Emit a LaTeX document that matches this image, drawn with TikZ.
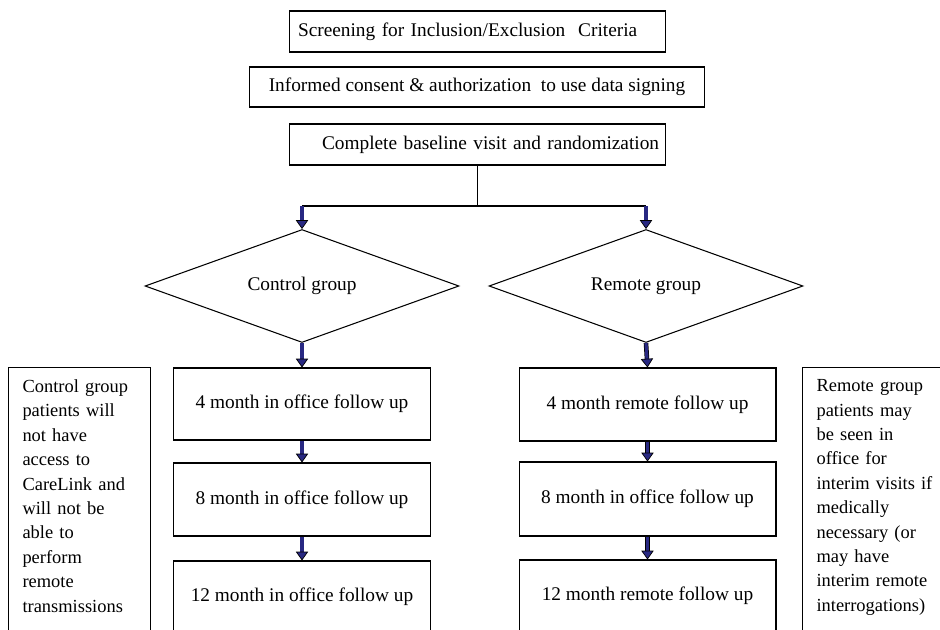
\documentclass[tikz,border=0pt]{standalone}
\usepackage{fontspec}
\setmainfont{Liberation Serif}
\usetikzlibrary{shapes.geometric,arrows.meta}
\definecolor{navy}{RGB}{40,40,130}

\begin{document}
\begin{tikzpicture}[x=0.02cm, y=-0.02cm,
        box/.style={rectangle, draw, line width=0.6pt, inner sep=0pt, font=\fontsize{11}{13.9}\selectfont},
        decision/.style={diamond, draw, line width=0.6pt, inner sep=0pt, shape aspect=2.78, minimum width=6.28cm, minimum height=2.26cm, font=\fontsize{11}{13.9}\selectfont},
        note/.style={rectangle, draw, line width=0.6pt, inner sep=0pt, align=left, anchor=north west, font=\fontsize{10.5}{13.9}\selectfont},
        line/.style={draw, line width=0.6pt},
        arrowline/.style={draw=black, double=navy, double distance=1.8pt, line width=0.4pt, -{Triangle[length=5pt, width=7pt, fill=navy]}}
    ]
        \useasboundingbox (0,0) rectangle (940,629);
        \clip (0,0) rectangle (940,629);

        % top of the flow
        \node[box, minimum width=7.54cm, minimum height=0.82cm, text width=7.54cm, align=left] (screen) at (477.5, 31.5) {\hspace*{0.18cm}\mbox{Screening for Inclusion/Exclusion\ \ Criteria}};
        \node[box, minimum width=9.12cm, minimum height=0.80cm] (consent) at (477, 87) {Informed consent \& authorization\ \ to use data signing};
        \node[box, minimum width=7.54cm, minimum height=0.82cm, text width=7.54cm, align=left] (base) at (477.5, 144.5) {\hspace*{0.66cm}\mbox{Complete baseline visit and randomization}};

        % the two groups
        \node[decision] (ctrl) at (302, 286) {Control group};
        \node[decision] (remote) at (646, 286) {Remote group};

        \node[box, minimum width=5.14cm, minimum height=1.44cm] (c4) at (302, 404) {4 month in office follow up};
        \node[box, minimum width=5.14cm, minimum height=1.46cm] (c8) at (302, 499.5) {8 month in office follow up};
        \node[box, minimum width=5.14cm, minimum height=1.44cm] (c12) at (302, 597) {12 month in office follow up};

        \node[box, minimum width=5.14cm, minimum height=1.46cm] (r4) at (647.5, 404.5) {4 month remote follow up};
        \node[box, minimum width=5.14cm, minimum height=1.48cm] (r8) at (647.5, 499) {8 month in office follow up};
        \node[box, minimum width=5.14cm, minimum height=1.44cm] (r12) at (647.5, 596) {12 month remote follow up};

        % side notes
        \node[note, minimum width=2.84cm, text width=2.28cm, inner xsep=0.28cm, inner ysep=0.24cm] (cnote) at (8, 367)
            {Control group\\patients will\\not have\\access to\\CareLink and\\will not be\\able to\\perform\\remote\\transmissions\\\mbox{}\\\mbox{}};
        \node[note, minimum width=3.2cm, text width=2.9cm, inner xsep=0.28cm, inner ysep=0.24cm] (rnote) at (802, 367)
            {Remote group\\patients may\\be seen in\\office for\\interim visits if\\medically\\necessary (or\\may have\\interim remote\\interrogations)\\\mbox{}\\\mbox{}};

        % connectors
        \coordinate (split) at (base.south |- 0,206);
        \coordinate (csplit) at (ctrl.north |- split);
        \coordinate (rsplit) at (remote.north |- split);
        \draw[line] (base.south) -- (split);
        \draw[line] (csplit) -- (rsplit);
        \draw[arrowline] (csplit) -- (ctrl.north);
        \draw[arrowline] (rsplit) -- (remote.north);

        \draw[arrowline] (ctrl.south) -- (c4.north);
        \draw[arrowline] (c4.south) -- (c8.north);
        \draw[arrowline] (c8.south) -- (c12.north);

        \draw[arrowline] (remote.south) -- (r4.north);
        \draw[arrowline] (r4.south) -- (r8.north);
        \draw[arrowline] (r8.south) -- (r12.north);
    \end{tikzpicture}
\end{document}
